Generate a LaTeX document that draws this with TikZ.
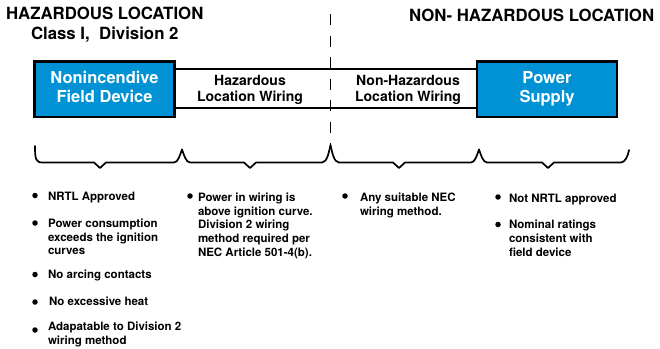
\documentclass[tikz,border=0pt]{standalone}
\usepackage{fontspec}
\setmainfont{TeX Gyre Heros}
\definecolor{devblue}{RGB}{0,146,212}
\begin{document}
\begin{tikzpicture}[x=1pt,y=-1pt,
  every node/.style={inner sep=0pt, outer sep=0pt, font=\bfseries},
  title/.style={anchor=base west, font=\bfseries\fontsize{16.8}{20}\selectfont},
  devbox/.style={draw=black, line width=2.5pt, fill=devblue, text=white, align=center,
    minimum width=140pt, minimum height=55.5pt, font=\bfseries\fontsize{16.5}{18.5}\selectfont},
  wiretext/.style={align=center, font=\bfseries\fontsize{14}{16.7}\selectfont},
  wire/.style={line width=1.9pt},
  divider/.style={line width=1.9pt, dash pattern=on 11pt off 10.5pt},
  brace/.style={line width=1.7pt, line join=round, line cap=round},
  dot/.style={circle, fill=black, minimum size=5.5pt},
  item/.style={anchor=north west, align=left, font=\bfseries\fontsize{11.5}{13.8}\selectfont}
]
\useasboundingbox (0,0) rectangle (660,348);

% titles
\node[title] (haz) at (6,19.5) {HAZARDOUS LOCATION};
\node[title] (cls) at (31,39.5) {Class I,\ \ Division 2};
\node[title] (nonhaz) at (409,21) {NON- HAZARDOUS LOCATION};

% divider
\coordinate (divtop) at (330.5,14);
\coordinate (divbot) at (330.5,145);
\draw[divider] (divtop) -- (divbot);

% boxes
\node[devbox] (dev) at (104.5,89) {Nonincendive\\Field Device\rule[-4.5pt]{0pt}{0pt}};
\node[devbox] (psu) at (547,89) {Power\\Supply};

% wiring strip
\coordinate (wt) at (0,69);
\coordinate (wb) at (0,108);
\draw[wire] (dev.east |- wt) -- (psu.west |- wt);
\draw[wire] (dev.east |- wb) -- (psu.west |- wb);
\node[wiretext] (hw) at (250,90) {Hazardous\\Location Wiring};
\node[wiretext] (nw) at (408,90) {Non-Hazardous\\Location Wiring};

% braces
\draw[brace] (35,146) .. controls (35,160) and (36,162.5) .. (43,162.5) -- (94,162.5) -- (100,168) -- (106,162.5) -- (174,162.5) .. controls (178,162.5) and (180,155) .. (182,149.5);
\draw[brace] (182,149.5) .. controls (184,155) and (186,162.5) .. (190,162.5) -- (244,162.5) -- (250,168) -- (256,162.5) -- (322,162.5) .. controls (327,162.5) and (329,152) .. (330.5,145);
\draw[brace] (330.5,145) .. controls (332,152) and (334,162.5) .. (339,162.5) -- (393,162.5) -- (399,168) -- (405,162.5) -- (471,162.5) .. controls (475,162.5) and (477,155) .. (479,149.5);
\draw[brace] (479,149.5) .. controls (481,155) and (483,162.5) .. (487,162.5) -- (542,162.5) -- (548,168) -- (554,162.5) -- (621,162.5) .. controls (625,162.5) and (628,156) .. (629,150);

% column 1
\node[dot] (b1) at (35,195.5) {};
\node[item] (t1) at (48,191.7) {NRTL Approved};
\node[dot] (b2) at (35,223) {};
\node[item] (t2) at (48,218.7) {Power consumption\\exceeds the ignition\\curves};
\node[dot] (b3) at (35,274.5) {};
\node[item] (t3) at (48,269.7) {No arcing contacts};
\node[dot] (b4) at (35,302) {};
\node[item] (t4) at (49,297.2) {No excessive heat};
\node[dot] (b5) at (35,330) {};
\node[item] (t5) at (48,321.7) {Adapatable to Division 2\\wiring method};

% column 2
\node[dot] (b6) at (190,196) {};
\node[item] (t6) at (198,192.7) {Power in wiring is\\above ignition curve.\\Division 2 wiring\\method required per\\NEC Article 501-4(b).};

% column 3
\node[dot] (b7) at (345,196) {};
\node[item] (t7) at (360,192.7) {Any suitable NEC\\wiring method.};

% column 4
\node[dot] (b8) at (498,197) {};
\node[item] (t8) at (509,194.2) {Not NRTL approved};
\node[dot] (b9) at (498,224.5) {};
\node[item] (t9) at (509,220.2) {Nominal ratings\\consistent with\\field device};
\end{tikzpicture}
\end{document}
